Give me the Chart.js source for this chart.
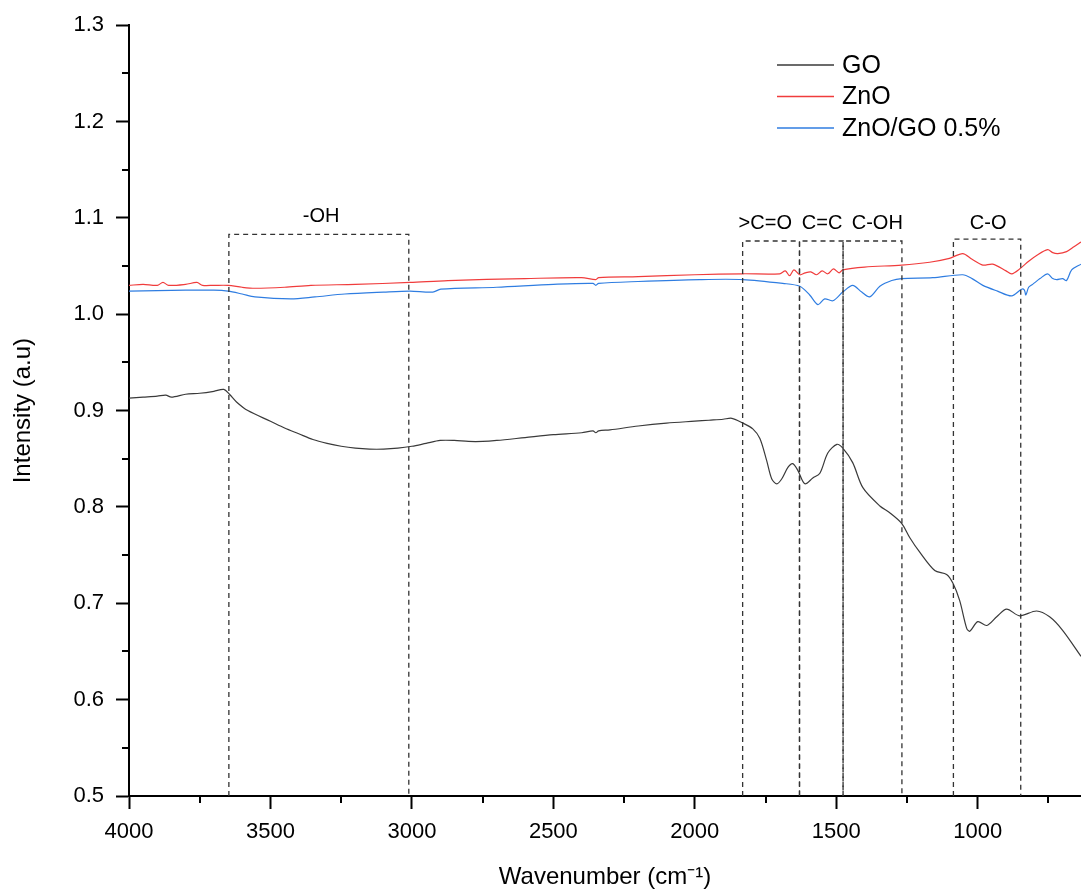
<!DOCTYPE html>
<html>
<head>
<meta charset="utf-8">
<title>FTIR spectra</title>
<script src="https://cdn.jsdelivr.net/npm/chart.js@4.4.1/dist/chart.umd.min.js"></script>
<style>
  html, body { margin: 0; padding: 0; background: #ffffff; }
  #wrap { width: 1081px; height: 891px; }
</style>
</head>
<body>
<div id="wrap"><canvas id="ftirChart" width="1081" height="891"></canvas></div>
<script>
// Series: wavenumber (cm-1) and intensity
var goWn  = [4000, 3950, 3900, 3870, 3850, 3800, 3750, 3700, 3665, 3645, 3620, 3580, 3500, 3450, 3400, 3350, 3300, 3250, 3200, 3150, 3100, 3050, 3000, 2950, 2900, 2850, 2800, 2750, 2700, 2600, 2500, 2400, 2360, 2350, 2340, 2300, 2200, 2100, 2000, 1950, 1900, 1869, 1830, 1795, 1770, 1746, 1728, 1710, 1693, 1671, 1654, 1636, 1611, 1583, 1558, 1530, 1498, 1477, 1442, 1406, 1346, 1311, 1269, 1240, 1205, 1152, 1110, 1088, 1064, 1039, 1028, 1000, 968, 933, 898, 852, 792, 746, 700, 635];
var goVal = [0.913, 0.914, 0.915, 0.916, 0.914, 0.917, 0.918, 0.920, 0.922, 0.917, 0.909, 0.900, 0.889, 0.882, 0.876, 0.870, 0.866, 0.863, 0.861, 0.860, 0.860, 0.861, 0.863, 0.866, 0.869, 0.869, 0.868, 0.868, 0.869, 0.872, 0.875, 0.877, 0.879, 0.877, 0.879, 0.880, 0.884, 0.887, 0.889, 0.890, 0.891, 0.892, 0.887, 0.881, 0.871, 0.848, 0.829, 0.824, 0.829, 0.841, 0.845, 0.838, 0.824, 0.830, 0.835, 0.856, 0.865, 0.861, 0.846, 0.820, 0.801, 0.794, 0.783, 0.768, 0.753, 0.734, 0.730, 0.721, 0.703, 0.674, 0.671, 0.681, 0.677, 0.686, 0.694, 0.687, 0.692, 0.686, 0.672, 0.645];

var znoWn  = [4000, 3950, 3900, 3880, 3860, 3800, 3760, 3740, 3700, 3650, 3600, 3555, 3450, 3357, 3200, 3007, 2873, 2600, 2400, 2350, 2340, 2200, 2000, 1830, 1700, 1680, 1665, 1650, 1629, 1610, 1590, 1570, 1550, 1530, 1510, 1490, 1477, 1400, 1269, 1170, 1100, 1053, 1020, 982, 947, 900, 880, 852, 820, 792, 753, 735, 717, 686, 660, 635];
var znoVal = [1.030, 1.031, 1.030, 1.033, 1.030, 1.031, 1.033, 1.030, 1.030, 1.030, 1.028, 1.027, 1.028, 1.030, 1.031, 1.033, 1.035, 1.037, 1.038, 1.036, 1.038, 1.039, 1.041, 1.042, 1.042, 1.045, 1.040, 1.046, 1.041, 1.043, 1.044, 1.041, 1.045, 1.042, 1.047, 1.043, 1.046, 1.049, 1.051, 1.054, 1.058, 1.063, 1.057, 1.051, 1.052, 1.045, 1.042, 1.047, 1.055, 1.061, 1.067, 1.064, 1.063, 1.065, 1.070, 1.075];

var zgoWn  = [4000, 3800, 3700, 3650, 3600, 3555, 3428, 3343, 3237, 3100, 3007, 2926, 2898, 2700, 2500, 2360, 2350, 2340, 2200, 1982, 1830, 1689, 1629, 1594, 1565, 1541, 1512, 1477, 1442, 1410, 1382, 1346, 1304, 1269, 1159, 1053, 1020, 982, 930, 880, 845, 835, 830, 820, 806, 780, 753, 735, 721, 700, 686, 668, 635];
var zgoVal = [1.024, 1.025, 1.025, 1.024, 1.021, 1.018, 1.016, 1.018, 1.021, 1.023, 1.024, 1.023, 1.026, 1.028, 1.031, 1.032, 1.030, 1.032, 1.034, 1.036, 1.036, 1.032, 1.029, 1.020, 1.010, 1.016, 1.014, 1.023, 1.030, 1.023, 1.018, 1.029, 1.035, 1.037, 1.038, 1.041, 1.037, 1.030, 1.024, 1.019, 1.026, 1.025, 1.020, 1.028, 1.031, 1.037, 1.042, 1.037, 1.036, 1.037, 1.035, 1.046, 1.052];

var seriesNames  = ['GO', 'ZnO', 'ZnO/GO 0.5%'];
var seriesColors = ['#3a3a3a', '#f03c3c', '#2f7de1'];

// Axis ticks
var xMajor = [4000, 3500, 3000, 2500, 2000, 1500, 1000];
var xMinor = [3750, 3250, 2750, 2250, 1750, 1250, 750];
var yMajor = [0.5, 0.6, 0.7, 0.8, 0.9, 1.0, 1.1, 1.2, 1.3];
var yMinor = [0.55, 0.65, 0.75, 0.85, 0.95, 1.05, 1.15, 1.25];

// Dashed band boxes: left / right wavenumber and top intensity
var bandLeft  = [3647, 1831, 1630, 1476, 1086];
var bandRight = [3011, 1630, 1476, 1268, 848];
var bandTop   = [1.083, 1.076, 1.076, 1.076, 1.078];

// Band labels
var bandNames = ['-OH', '>C=O', 'C=C', 'C-OH', 'C-O'];
var labelWn   = [3321, 1751, 1550, 1355, 963];
var labelVal  = [1.101, 1.094, 1.094, 1.094, 1.094];

var FONT = '"Liberation Sans", Arial, sans-serif';

function toPoints(wn, val) {
    var pts = [];
    for (var i = 0; i < wn.length; i++) {
        pts.push({x: wn[i], y: val[i]});
    }
    return pts;
}

// Minor ticks, band boxes and the legend drawn over the chart
var extrasPlugin = {
    id: 'extras',
    afterDraw: function(chart) {
        var ctx = chart.ctx;
        var xs = chart.scales.x;
        var ys = chart.scales.y;
        var area = chart.chartArea;

        ctx.save();
        // minor ticks
        ctx.strokeStyle = '#000';
        ctx.lineWidth = 2;
        ctx.beginPath();
        xMinor.forEach(function(v) {
            var px = Math.round(xs.getPixelForValue(v));
            ctx.moveTo(px, area.bottom);
            ctx.lineTo(px, area.bottom + 7);
        });
        yMinor.forEach(function(v) {
            var py = Math.round(ys.getPixelForValue(v));
            ctx.moveTo(area.left, py);
            ctx.lineTo(area.left - 7, py);
        });
        ctx.stroke();

        // dashed band boxes
        ctx.strokeStyle = '#333';
        ctx.lineWidth = 1.3;
        ctx.setLineDash([5, 4]);
        for (var i = 0; i < bandLeft.length; i++) {
            var l = xs.getPixelForValue(bandLeft[i]);
            var r = xs.getPixelForValue(bandRight[i]);
            var t = ys.getPixelForValue(bandTop[i]);
            ctx.beginPath();
            ctx.moveTo(l, area.bottom);
            ctx.lineTo(l, t);
            ctx.lineTo(r, t);
            ctx.lineTo(r, area.bottom);
            ctx.stroke();
        }
        ctx.setLineDash([]);

        // band labels
        ctx.fillStyle = '#000';
        ctx.font = '20px ' + FONT;
        ctx.textAlign = 'center';
        ctx.textBaseline = 'middle';
        for (var j = 0; j < bandNames.length; j++) {
            ctx.fillText(bandNames[j], xs.getPixelForValue(labelWn[j]), ys.getPixelForValue(labelVal[j]));
        }

        // legend
        ctx.font = '25px ' + FONT;
        ctx.textAlign = 'left';
        for (var k = 0; k < seriesNames.length; k++) {
            var ly = 65 + k * 31.5;
            ctx.strokeStyle = seriesColors[k];
            ctx.lineWidth = 1.3;
            ctx.beginPath();
            ctx.moveTo(777, ly);
            ctx.lineTo(834, ly);
            ctx.stroke();
            ctx.fillStyle = '#000';
            ctx.fillText(seriesNames[k], 842, ly + 1);
        }
        ctx.restore();
    }
};

function initializeChart() {
    var ctx = document.getElementById('ftirChart').getContext('2d');
    var series = [toPoints(goWn, goVal), toPoints(znoWn, znoVal), toPoints(zgoWn, zgoVal)];
    var datasets = [];
    for (var i = 0; i < series.length; i++) {
        datasets.push({
            label: seriesNames[i],
            data: series[i],
            borderColor: seriesColors[i],
            borderWidth: 1.2,
            pointRadius: 0,
            tension: 0.3,
            fill: false
        });
    }

    new Chart(ctx, {
        type: 'line',
        data: { datasets: datasets },
        plugins: [extrasPlugin],
        options: {
            responsive: false,
            animation: false,
            layout: { padding: { top: 21, right: 0, bottom: 0, left: 0 } },
            plugins: {
                legend: { display: false },
                tooltip: { enabled: false }
            },
            scales: {
                x: {
                    type: 'linear',
                    reverse: true,
                    min: 635,
                    max: 4000,
                    afterBuildTicks: function(s) { s.ticks = xMajor.map(function(v) { return {value: v}; }); },
                    afterFit: function(s) { s.height = 95; },
                    border: { display: true, color: '#000', width: 2 },
                    grid: { drawOnChartArea: false, drawTicks: true, tickLength: 13, tickWidth: 2, tickColor: '#000' },
                    ticks: {
                        color: '#000',
                        padding: 10,
                        maxRotation: 0,
                        font: { family: FONT, size: 22 },
                        callback: function(v) { return String(v); }
                    },
                    title: {
                        display: true,
                        text: 'Wavenumber (cm\u207B\u00B9)',
                        color: '#000',
                        padding: { top: 0, bottom: 2 },
                        font: { family: FONT, size: 24, lineHeight: 1.0 }
                    }
                },
                y: {
                    min: 0.5,
                    max: 1.3,
                    afterBuildTicks: function(s) { s.ticks = yMajor.map(function(v) { return {value: v}; }); },
                    afterFit: function(s) { s.width = 129; },
                    border: { display: true, color: '#000', width: 2 },
                    grid: { drawOnChartArea: false, drawTicks: true, tickLength: 13, tickWidth: 2, tickColor: '#000' },
                    ticks: {
                        color: '#000',
                        padding: 12,
                        font: { family: FONT, size: 22 },
                        callback: function(v) { return v.toFixed(1); }
                    },
                    title: {
                        display: true,
                        text: 'Intensity (a.u)',
                        color: '#000',
                        padding: { top: 9, bottom: 0 },
                        font: { family: FONT, size: 24 }
                    }
                }
            }
        }
    });
}

document.addEventListener('DOMContentLoaded', initializeChart);
</script>
</body>
</html>
